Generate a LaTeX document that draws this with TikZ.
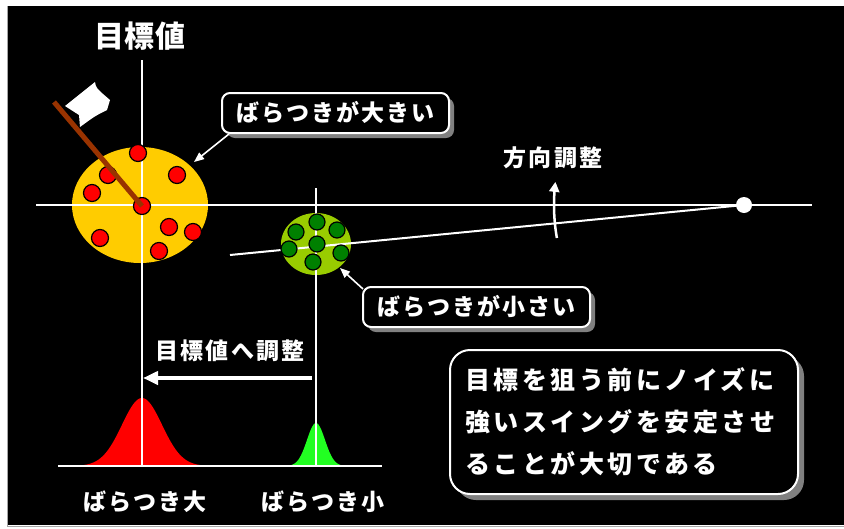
\documentclass[tikz,border=0pt]{standalone}
\usepackage{fontspec}
\setmainfont{Noto Sans CJK JP}
\newfontfamily\titlefont[LetterSpace=1]{Noto Sans CJK JP}
\newfontfamily\lblfont[LetterSpace=9]{Noto Sans CJK JP}
\newfontfamily\notefont[LetterSpace=14]{Noto Sans CJK JP}
\usetikzlibrary{arrows.meta,shadows,calc}

\definecolor{spread}{HTML}{FFCC00}
\definecolor{tight}{HTML}{99CC00}
\definecolor{shotred}{HTML}{FF0000}
\definecolor{shotgreen}{HTML}{008000}
\definecolor{pole}{HTML}{993300}
\definecolor{bellgreen}{HTML}{22FF22}

\tikzset{
  guide/.style={white, line width=2pt},
  redshot/.style={circle, draw=black, line width=1.2pt, fill=shotred, minimum size=17pt, inner sep=0pt},
  greenshot/.style={circle, draw=black, line width=1.2pt, fill=shotgreen, minimum size=16pt, inner sep=0pt},
  label/.style={text=white, font=\lblfont\bfseries\fontsize{23}{27}\selectfont, inner sep=0pt},
  callout/.style={draw=white, line width=2pt, fill=black, rounded corners=8pt, text=white,
    minimum width=227pt, minimum height=40pt, inner sep=0pt,
    font=\lblfont\bfseries\fontsize{23}{27}\selectfont,
    drop shadow={shadow xshift=5pt, shadow yshift=-5pt, fill=gray, opacity=1}},
  pointer/.style={white, line width=1.6pt, -{Triangle[length=10pt,width=8pt]}},
}

\begin{document}
\begin{tikzpicture}[x=1pt,y=-1pt]
\useasboundingbox (0,0) rectangle (844,528);

% backdrop
\fill[black] (7,6) rectangle (844,525);
\draw[gray!70, line width=1pt] (7,6) -- (7,526) -- (844,526);

% scatter areas
\fill[spread] (140,205) ellipse [x radius=68, y radius=58];
\fill[tight] (316,244) ellipse [x radius=35, y radius=31];

% distribution curves
\fill[shotred] plot[domain=-64:64, samples=80, smooth]
  ({142+\x},{466-68*exp(-((\x)*(\x))/800)}) -- cycle;
\fill[bellgreen] plot[domain=-33:33, samples=60, smooth]
  ({316+\x},{466-43*exp(-((\x)*(\x))/162)}) -- cycle;

% guide lines
\node[circle, fill=white, minimum size=16pt, inner sep=0pt] (pivot) at (744,205) {};
\coordinate (vtop) at (142,60);   \coordinate (vbot) at (142,466);
\coordinate (hl) at (36,205);     \coordinate (hr) at (812,205);
\coordinate (gtop) at (316,188);  \coordinate (gbot) at (316,466);
\coordinate (tl) at (230,255);
\coordinate (al) at (58,466);     \coordinate (ar) at (382,466);
\draw[guide] (vtop) -- (vbot);
\draw[guide] (hl) -- (hr);
\draw[guide] (gtop) -- (gbot);
\draw[guide] (tl) -- (pivot.center);
\draw[white, line width=2.5pt] (al) -- (ar);

% shots
\foreach \n/\p in {1/{138,153},2/{108,175},3/{177,175},4/{92,193},5/{142,206},
                   6/{169,227},7/{193,232},8/{100,238},9/{159,251}}
  \node[redshot] (r\n) at (\p) {};
\foreach \n/\p in {1/{317,222},2/{296,232},3/{337,230},4/{289,249},5/{317,244},
                   6/{341,253},7/{313,262}}
  \node[greenshot] (g\n) at (\p) {};

% flag
\coordinate (poletop) at (54,102);
\draw[pole, line width=5pt] (poletop) -- (r5.center);
\fill[white] (65,106) -- (95,82) .. controls (96,88) .. (110,100)
  -- (107,110) .. controls (95,116) .. (80,127) -- (79,115) -- cycle;

% texts
\node[text=white, font=\titlefont\bfseries\fontsize{30}{34}\selectfont, inner sep=0pt] (title) at (140,36) {目標値};
\node[label] (dirlbl) at (553,158) {方向調整};
\node[label] (movelbl) at (230,351) {目標値へ調整};
\node[label] (biglbl) at (145,502) {ばらつき大};
\node[label] (smalllbl) at (323,502) {ばらつき小};

% direction arc around the pivot
\draw[white, line width=2.5pt, -{Triangle[length=10pt,width=10pt]}]
  plot[domain=170:187, samples=20, smooth] ({744+190*cos(\x)},{205+190*sin(\x)});

% shift arrow
\coordinate (mvS) at (312,378);
\coordinate (mvE) at (143,378);
\draw[white, line width=4pt, -{Triangle[length=15pt,width=13pt]}] (mvS) -- (mvE);

% callouts
\node[callout] (big) at (335.5,113) {ばらつきが大きい};
\node[callout] (small) at (476.5,307) {ばらつきが小さい};
\coordinate (bigtip) at (194,162);
\coordinate (smalltip) at (340,268);
\draw[pointer] ([xshift=8pt]big.south west) -- (bigtip);
\draw[pointer] ([xshift=1pt,yshift=-3pt]small.north west) -- (smalltip);

\node[draw=white, line width=2pt, fill=black, rounded corners=20pt, text=white,
  text width=318pt, inner xsep=15pt, inner ysep=0pt, minimum height=144pt, align=left,
  font=\notefont\bfseries\fontsize{25}{42}\selectfont,
  drop shadow={shadow xshift=6pt, shadow yshift=-6pt, fill=gray, opacity=1}]
  (note) at (624,422) {目標を狙う前にノイズに\\強いスイングを安定させ\\ることが大切である};
\end{tikzpicture}
\end{document}
